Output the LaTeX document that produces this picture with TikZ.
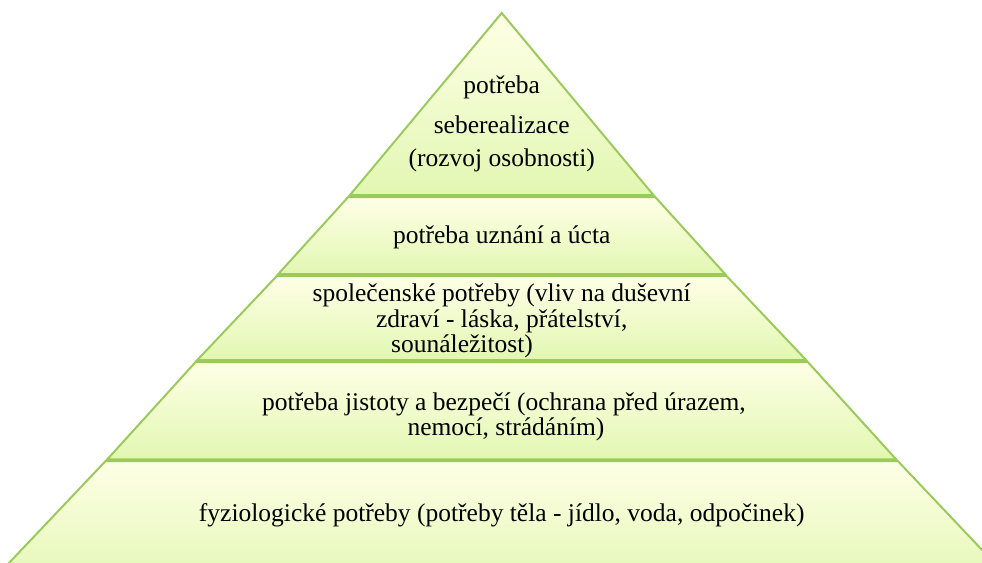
\documentclass[tikz,border=0pt]{standalone}
\usepackage{fontspec}
\setmainfont{Liberation Serif}
\newfontfamily\tnr{Liberation Serif}
\definecolor{edge}{RGB}{155,202,92}
\definecolor{topc}{RGB}{254,255,230}
\definecolor{botc}{RGB}{226,247,178}
\tikzset{
  layer/.style={draw=edge, line width=2pt, line join=miter, top color=topc, bottom color=botc},
  txt/.style={inner sep=0pt, font=\tnr\fontsize{25.5}{30}\selectfont, text=black}
}
\begin{document}
\begin{tikzpicture}[x=1pt,y=-1pt]
\useasboundingbox (0,0) rectangle (982,562);
\begin{scope}
\clip (0,0) rectangle (982,562);
% layers (mirror about x=501.7)
\path[layer] (501.7,13) -- (653.4,195) -- (350,195) -- cycle;
\path[layer] (348.2,197) -- (655.2,197) -- (725.1,274) -- (278.3,274) -- cycle;
\path[layer] (277,275.8) -- (726.4,275.8) -- (806.1,360) -- (197.3,360) -- cycle;
\path[layer] (195.6,362) -- (807.8,362) -- (896.1,459.3) -- (107.3,459.3) -- cycle;
\path[layer] (105.6,461) -- (897.8,461) -- (1020,590) -- (-16.6,590) -- cycle;
\end{scope}
% texts
\node[txt] (t1a) at (501.7,87) {potřeba};
\node[txt] (t1b) at (501.7,125) {seberealizace};
\node[txt] (t1c) at (501.7,160) {(rozvoj osobnosti)};
\node[txt] (t2) at (501.7,237) {potřeba uznání a úcta};
\node[txt] (t3a) at (501.7,295) {společenské potřeby (vliv na duševní};
\node[txt] (t3b) at (501.7,321) {zdraví - láska, přátelství,};
\node[txt] (t3c) at (462,346) {sounáležitost)};
\node[txt] (t4a) at (504,404) {potřeba jistoty a bezpečí (ochrana před úrazem,};
\node[txt] (t4b) at (506,429) {nemocí, strádáním)};
\node[txt] (t5) at (501.7,515) {fyziologické potřeby (potřeby těla - jídlo, voda, odpočinek)};
\end{tikzpicture}
\end{document}
